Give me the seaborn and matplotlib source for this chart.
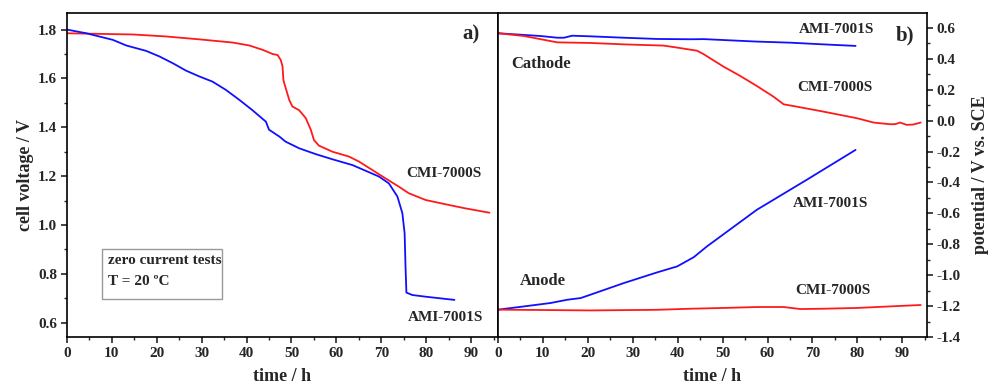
import matplotlib
matplotlib.use("Agg")
import matplotlib.pyplot as plt
import seaborn as sns
import pandas as pd
from matplotlib.patches import Rectangle
from matplotlib.ticker import MultipleLocator

# ---- panel a) cell voltage ----
cmi_cell_t = [0, 14.7, 22, 29.5, 36.9, 40.6, 43.6, 45.8, 46.9, 47.6, 48.0, 48.2, 48.4,
              49.5, 50.2, 51.7, 53.2, 54.3, 55.0, 56.1, 59.1, 62.8, 65.0, 68.0, 71.0,
              73.9, 76.1, 79.9, 85.0, 88.7, 94.1]
cmi_cell_v = [1.785, 1.78, 1.772, 1.76, 1.747, 1.735, 1.717, 1.70, 1.696, 1.676, 1.65, 1.594, 1.58,
              1.512, 1.485, 1.47, 1.437, 1.39, 1.348, 1.325, 1.30, 1.28, 1.26, 1.225, 1.19,
              1.157, 1.13, 1.102, 1.082, 1.068, 1.05]
ami_cell_t = [0, 4.3, 10.2, 13.2, 17.6, 20.6, 23.6, 26.5, 29.5, 32.4, 35.4, 38.4, 41.3,
              44.3, 45.0, 47.3, 48.7, 51.7, 55.4, 59.1, 63.6, 66.5, 69.5, 71.7, 73.6,
              74.7, 75.2, 75.4, 75.6, 76.9, 79.9, 86.3]
ami_cell_v = [1.80, 1.785, 1.758, 1.735, 1.713, 1.69, 1.662, 1.632, 1.608, 1.587, 1.553, 1.512, 1.47,
              1.423, 1.39, 1.362, 1.341, 1.314, 1.29, 1.269, 1.245, 1.222, 1.198, 1.17, 1.116,
              1.048, 0.966, 0.829, 0.723, 0.713, 0.706, 0.693]

# ---- panel b) electrode potentials ----
ami_cat_t = [0, 9.5, 13.2, 14.7, 16.5, 20.6, 28.0, 35.4, 42.8, 45.8, 57.6, 65.0, 72.4, 79.6]
ami_cat_v = [0.566, 0.548, 0.537, 0.537, 0.55, 0.546, 0.537, 0.529, 0.527, 0.528, 0.512, 0.505, 0.494, 0.484]
cmi_cat_t = [0, 5.8, 13.2, 20.6, 28.0, 36.9, 39.9, 44.3, 45.8, 50.2, 53.9, 57.6, 61.3, 63.6,
             66.5, 72.4, 79.9, 83.6, 87.3, 88.5, 89.5, 91.0, 92.4, 94.1]
cmi_cat_v = [0.566, 0.548, 0.507, 0.503, 0.494, 0.486, 0.473, 0.453, 0.43, 0.35, 0.29, 0.225, 0.156, 0.106,
             0.091, 0.059, 0.016, -0.012, -0.023, -0.022, -0.012, -0.027, -0.025, -0.012]
ami_an_t = [0, 5.8, 11.7, 15.4, 18.4, 20.6, 28.0, 35.4, 39.9, 43.6, 46.5, 57.6, 68.7, 79.6]
ami_an_v = [-1.223, -1.202, -1.18, -1.159, -1.148, -1.126, -1.051, -0.982, -0.943, -0.883, -0.814,
            -0.577, -0.383, -0.189]
cmi_an_t = [0, 20.6, 35.4, 42.8, 50.2, 57.6, 63.6, 67.3, 72.4, 79.9, 87.3, 94.1]
cmi_an_v = [-1.223, -1.228, -1.224, -1.217, -1.212, -1.206, -1.206, -1.219, -1.217, -1.212, -1.202, -1.193]

x_ticks = [0, 10, 20, 30, 40, 50, 60, 70, 80, 90]
ya_ticks = [0.6, 0.8, 1.0, 1.2, 1.4, 1.6, 1.8]
yb_ticks = [-1.4, -1.2, -1.0, -0.8, -0.6, -0.4, -0.2, 0.0, 0.2, 0.4, 0.6]

RED = "#ff1a1a"
BLUE = "#1010ff"

sns.set_style("ticks")
plt.rcParams["font.family"] = ["Liberation Serif", "DejaVu Serif"]
plt.rcParams["font.weight"] = "bold"

fig = plt.figure(figsize=(10, 3.89), dpi=100)
bottom = (389 - 337) / 389
height = (337 - 13) / 389
axa = fig.add_axes([67 / 1000, bottom, (498 - 67) / 1000, height])
axb = fig.add_axes([498 / 1000, bottom, (927 - 498) / 1000, height])

lw = 1.3
sns.lineplot(data=pd.DataFrame({"t": cmi_cell_t, "v": cmi_cell_v}), x="t", y="v",
             ax=axa, color=RED, lw=lw, sort=False)
sns.lineplot(data=pd.DataFrame({"t": ami_cell_t, "v": ami_cell_v}), x="t", y="v",
             ax=axa, color=BLUE, lw=lw, sort=False)
for tt, vv, c in [(ami_cat_t, ami_cat_v, BLUE), (cmi_cat_t, cmi_cat_v, RED),
                  (ami_an_t, ami_an_v, BLUE), (cmi_an_t, cmi_an_v, RED)]:
    sns.lineplot(data=pd.DataFrame({"t": tt, "v": vv}), x="t", y="v",
                 ax=axb, color=c, lw=lw, sort=False)

for ax in (axa, axb):
    for s in ax.spines.values():
        s.set_linewidth(1.2)
        s.set_color("black")
    ax.set_xticks(x_ticks)
    ax.xaxis.set_minor_locator(MultipleLocator(5))
    ax.tick_params(axis="both", which="major", direction="out", length=4, width=1.2,
                   labelsize=11, pad=3)
    ax.tick_params(axis="both", which="minor", direction="out", length=2.5, width=1.0)
    ax.set_xlabel("time / h", fontsize=13, fontweight="bold", labelpad=6)
    for lab in ax.get_xticklabels() + ax.get_yticklabels():
        lab.set_fontweight("bold")

axa.set_xlim(0, 96)
axa.set_ylim(0.541, 1.868)
axa.set_yticks(ya_ticks)
axa.yaxis.set_minor_locator(MultipleLocator(0.1))
axa.set_yticklabels([f"{v:.1f}" for v in ya_ticks], fontweight="bold")
axa.set_ylabel("cell voltage / V", fontsize=13, fontweight="bold", labelpad=3)
axa.tick_params(axis="y", which="both", right=False)

axb.set_xlim(0, 95.5)
axb.set_ylim(-1.4, 0.697)
axb.set_yticks(yb_ticks)
axb.yaxis.set_minor_locator(MultipleLocator(0.1))
axb.set_yticklabels([f"{v:.1f}" for v in yb_ticks], fontweight="bold")
axb.yaxis.tick_right()
axb.yaxis.set_label_position("right")
axb.tick_params(axis="y", which="both", left=False, right=True)
axb.set_ylabel("potential / V vs. SCE", fontsize=13, fontweight="bold", labelpad=8)

fs = 11
axa.text(90, 1.778, "a)", fontsize=15, fontweight="bold", ha="center", va="center")
axa.text(84, 1.212, "CMI-7000S", fontsize=fs, fontweight="bold", ha="center", va="center")
axa.text(84.4, 0.622, "AMI-7001S", fontsize=fs, fontweight="bold", ha="center", va="center")
axa.add_patch(Rectangle((0.081, 0.117), 0.278, 0.154, transform=axa.transAxes,
                        fill=False, edgecolor="#999999", lw=1.0))
axa.text(0.095, 0.235, "zero current tests", transform=axa.transAxes, fontsize=fs,
         fontweight="bold", ha="left", va="center")
axa.text(0.095, 0.172, "T = 20 ºC", transform=axa.transAxes, fontsize=fs,
         fontweight="bold", ha="left", va="center")

axb.text(90.6, 0.55, "b)", fontsize=15, fontweight="bold", ha="center", va="center")
axb.text(75.3, 0.587, "AMI-7001S", fontsize=fs, fontweight="bold", ha="center", va="center")
axb.text(9.6, 0.367, "Cathode", fontsize=12, fontweight="bold", ha="center", va="center")
axb.text(75, 0.218, "CMI-7000S", fontsize=fs, fontweight="bold", ha="center", va="center")
axb.text(74, -0.539, "AMI-7001S", fontsize=fs, fontweight="bold", ha="center", va="center")
axb.text(9.9, -1.037, "Anode", fontsize=12, fontweight="bold", ha="center", va="center")
axb.text(74.5, -1.10, "CMI-7000S", fontsize=fs, fontweight="bold", ha="center", va="center")

fig.savefig("out.png", dpi=100)
